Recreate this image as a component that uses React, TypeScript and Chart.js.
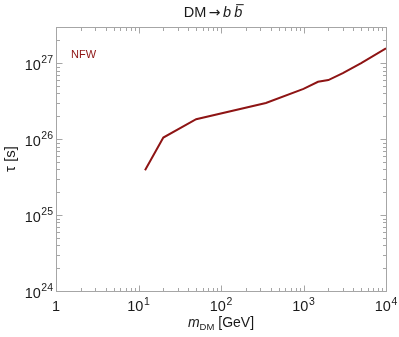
import React, { useEffect, useRef } from 'react';
import { Chart, registerables } from 'chart.js';

Chart.register(...registerables);

// ---- data ----
const masses = [12, 20, 50, 350, 1000, 1500, 2000, 3000, 5000, 10000];
const lifetimes = [3.9e25, 1.05e26, 1.83e26, 3.0e26, 4.6e26, 5.7e26, 6.0e26, 7.4e26, 1.0e27, 1.57e27];
const seriesLabel = 'NFW';

const xMajorTicks = [1, 10, 100, 1000, 10000];
const xTickBase = ['1', '10', '10', '10', '10'];
const xTickExp = ['', '1', '2', '3', '4'];
const yMajorTicks = [1e24, 1e25, 1e26, 1e27];
const yTickBase = ['10', '10', '10', '10'];
const yTickExp = ['24', '25', '26', '27'];
const minorFactors = [2, 3, 4, 5, 6, 7, 8, 9];

const X_MIN = 1;
const X_MAX = 1e4;
const Y_MIN = 1e24;
const Y_MAX = 3e27;

const LINE_COLOR = '#8e1414';
const FRAME_COLOR = '#a6a6a6';
const TEXT_COLOR = '#1a1a1a';
const FONT = '"Liberation Sans", Arial, sans-serif';
const SYM_FONT = '"DejaVu Sans", sans-serif';

type Seg = { text: string; size: number; italic?: boolean; dy?: number; overline?: boolean; family?: string; dx?: number };

function segFont(s: Seg) {
  return `${s.italic ? 'italic ' : ''}${s.size}px ${s.family || FONT}`;
}

function drawRich(ctx: CanvasRenderingContext2D, segs: Seg[], x: number, y: number, align: 'left' | 'center' | 'right') {
  let total = 0;
  const widths = segs.map((s) => {
    ctx.font = segFont(s);
    const w = ctx.measureText(s.text).width + (s.dx || 0);
    total += w;
    return w;
  });
  let cx = align === 'left' ? x : align === 'center' ? x - total / 2 : x - total;
  ctx.textBaseline = 'alphabetic';
  ctx.textAlign = 'left';
  segs.forEach((s, i) => {
    ctx.font = segFont(s);
    ctx.fillText(s.text, cx + (s.dx || 0), y + (s.dy || 0));
    if (s.overline) {
      ctx.save();
      ctx.strokeStyle = ctx.fillStyle as string;
      ctx.lineWidth = 1;
      ctx.beginPath();
      ctx.moveTo(cx + (s.dx || 0) + 2, y - s.size * 0.85);
      ctx.lineTo(cx + widths[i] + 1.5, y - s.size * 0.85);
      ctx.stroke();
      ctx.restore();
    }
    cx += widths[i];
  });
}

function minorValues(min: number, max: number): number[] {
  const out: number[] = [];
  const d0 = Math.floor(Math.log10(min));
  const d1 = Math.ceil(Math.log10(max));
  for (let d = d0; d <= d1; d++) {
    minorFactors.forEach((f) => {
      const v = f * Math.pow(10, d);
      if (v > min && v < max) out.push(v);
    });
  }
  return out;
}

const framePlugin = {
  id: 'mathFrame',
  afterDatasetsDraw(chart: any) {
    const ctx: CanvasRenderingContext2D = chart.ctx;
    const { left, right, top, bottom } = chart.chartArea;
    const xs = chart.scales.x;
    const ys = chart.scales.y;
    ctx.save();
    ctx.strokeStyle = FRAME_COLOR;
    ctx.lineWidth = 1;
    const L = Math.round(left) + 0.5;
    const R = Math.round(right) + 0.5;
    const T = Math.round(top) + 0.5;
    const B = Math.round(bottom) + 0.5;
    ctx.strokeRect(L, T, R - L, B - T);

    const major = 6;
    const minor = 3.5;
    ctx.beginPath();
    const xTick = (v: number, len: number) => {
      const px = Math.round(xs.getPixelForValue(v)) + 0.5;
      ctx.moveTo(px, B);
      ctx.lineTo(px, B - len);
      ctx.moveTo(px, T);
      ctx.lineTo(px, T + len);
    };
    const yTick = (v: number, len: number) => {
      const py = Math.round(ys.getPixelForValue(v)) + 0.5;
      ctx.moveTo(L, py);
      ctx.lineTo(L + len, py);
      ctx.moveTo(R, py);
      ctx.lineTo(R - len, py);
    };
    xMajorTicks.forEach((v) => xTick(v, major));
    minorValues(X_MIN, X_MAX).forEach((v) => xTick(v, minor));
    yMajorTicks.forEach((v) => yTick(v, major));
    minorValues(Y_MIN, Y_MAX).forEach((v) => yTick(v, minor));
    ctx.stroke();

    // tick labels
    ctx.fillStyle = TEXT_COLOR;
    xMajorTicks.forEach((v, i) => {
      const px = xs.getPixelForValue(v);
      const segs: Seg[] = [{ text: xTickBase[i], size: 14.5 }];
      if (xTickExp[i]) segs.push({ text: xTickExp[i], size: 10.5, dy: -6.5, dx: 0.5 });
      drawRich(ctx, segs, px, bottom + 20, 'center');
    });
    yMajorTicks.forEach((v, i) => {
      const py = ys.getPixelForValue(v);
      const segs: Seg[] = [
        { text: yTickBase[i], size: 14.5 },
        { text: yTickExp[i], size: 10.5, dy: -6.5, dx: 0.5 },
      ];
      drawRich(ctx, segs, left - 3, py + 6.5, 'right');
    });

    // axis titles
    drawRich(
      ctx,
      [
        { text: 'm', size: 14, italic: true },
        { text: 'DM', size: 9.5, dy: 3 },
        { text: ' [GeV]', size: 14 },
      ],
      (left + right) / 2,
      bottom + 36,
      'center'
    );
    ctx.save();
    ctx.translate(15, (top + bottom) / 2);
    ctx.rotate(-Math.PI / 2);
    drawRich(ctx, [{ text: 'τ [s]', size: 15 }], 0, 0, 'center');
    ctx.restore();

    // title
    drawRich(
      ctx,
      [
        { text: 'DM', size: 14.5 },
        { text: '→', size: 14, family: SYM_FONT, dx: 2.5 },
        { text: 'b', size: 14.5, italic: true, dx: 2.5 },
        { text: 'b', size: 14.5, italic: true, overline: true, dx: 3 },
      ],
      213,
      17,
      'center'
    );

    // series label
    ctx.fillStyle = LINE_COLOR;
    drawRich(ctx, [{ text: seriesLabel, size: 11 }], left + 15, top + 31, 'left');
    ctx.restore();
  },
};

export default function App() {
  const ref = useRef<HTMLCanvasElement | null>(null);
  useEffect(() => {
    document.body.style.margin = '0';
    const canvas = ref.current;
    if (!canvas) return;
    const chart = new Chart(canvas, {
      type: 'line',
      data: {
        datasets: [
          {
            label: seriesLabel,
            data: masses.map((m, i) => ({ x: m, y: lifetimes[i] })),
            borderColor: LINE_COLOR,
            borderWidth: 2,
            pointRadius: 0,
            fill: false,
            tension: 0,
          },
        ],
      },
      options: {
        responsive: false,
        animation: false,
        layout: { padding: { left: 56, right: 13, top: 27, bottom: 46 } },
        scales: {
          x: { type: 'logarithmic', min: X_MIN, max: X_MAX, display: false },
          y: { type: 'logarithmic', min: Y_MIN, max: Y_MAX, display: false },
        },
        plugins: { legend: { display: false }, tooltip: { enabled: false }, title: { display: false } },
      },
      plugins: [framePlugin],
    } as any);
    return () => chart.destroy();
  }, []);
  return (
    <div style={{ width: 399, height: 337, background: '#fff' }}>
      <canvas ref={ref} width={399} height={337} style={{ display: 'block' }} />
    </div>
  );
}
